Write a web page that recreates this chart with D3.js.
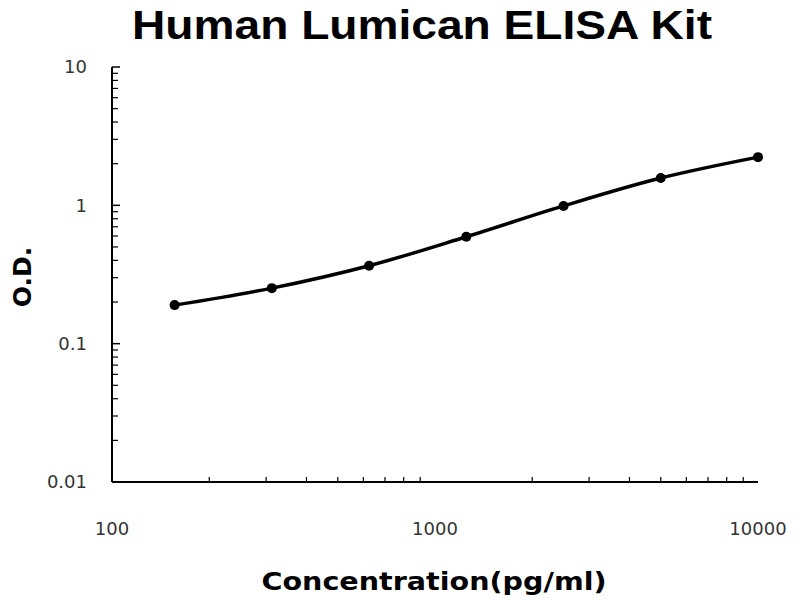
<!DOCTYPE html>
<html>
<head>
<meta charset="UTF-8">
<title>Human Lumican ELISA Kit</title>
<script src="https://d3js.org/d3.v7.min.js"></script>
<style>
  body { margin: 0; background: #fff; }
  svg { display: block; }
</style>
</head>
<body>
<div id="chart"></div>
<script>
// standard curve values
var concentrations = [156.25, 312.5, 625, 1250, 2500, 5000, 10000];
var odValues = [0.190, 0.252, 0.366, 0.593, 0.99, 1.575, 2.23];
var xTickValues = [100, 1000, 10000];
var yTickValues = [0.01, 0.1, 1, 10];

var width = 800, height = 600;
var plot = { left: 112, right: 758, top: 67, bottom: 482 };

var svg = d3.select("#chart").append("svg")
  .attr("width", width)
  .attr("height", height);

var x = d3.scaleLog().domain([100, 10000]).range([plot.left, plot.right]);
var y = d3.scaleLog().domain([0.01, 10]).range([plot.bottom, plot.top]);

// minor ticks: 2..9 of each decade
function minors(lo, hi) {
  var out = [];
  for (var d = lo; d < hi; d *= 10) {
    for (var k = 2; k <= 9; k++) out.push(d * k);
  }
  return out;
}

// x axis
var xg = svg.append("g").attr("transform", "translate(0," + plot.bottom + ")");
xg.append("line")
  .attr("x1", plot.left).attr("x2", plot.right)
  .attr("stroke", "#000").attr("stroke-width", 2);
xg.selectAll(".xminor").data(minors(100, 10000)).enter().append("line")
  .attr("x1", function(d) { return x(d); })
  .attr("x2", function(d) { return x(d); })
  .attr("y1", 0).attr("y2", -5)
  .attr("stroke", "#000").attr("stroke-width", 1.2);
xg.selectAll(".xlab").data(xTickValues).enter().append("text")
  .attr("x", function(d) { return x(d); })
  .attr("y", 53)
  .attr("text-anchor", "middle")
  .style("font-family", "'DejaVu Sans', sans-serif")
  .style("font-size", "18px")
  .style("fill", "#333")
  .text(function(d) { return d; });

// y axis
var yg = svg.append("g").attr("transform", "translate(" + plot.left + ",0)");
yg.append("line")
  .attr("y1", plot.top).attr("y2", plot.bottom)
  .attr("stroke", "#000").attr("stroke-width", 2);
yg.selectAll(".ymajor").data(yTickValues).enter().append("line")
  .attr("y1", function(d) { return y(d); })
  .attr("y2", function(d) { return y(d); })
  .attr("x1", 0).attr("x2", 8)
  .attr("stroke", "#000").attr("stroke-width", 1.5);
yg.selectAll(".yminor").data(minors(0.01, 10)).enter().append("line")
  .attr("y1", function(d) { return y(d); })
  .attr("y2", function(d) { return y(d); })
  .attr("x1", 0).attr("x2", 6)
  .attr("stroke", "#000").attr("stroke-width", 1.2);
yg.selectAll(".ylab").data(yTickValues).enter().append("text")
  .attr("x", -25)
  .attr("y", function(d) { return y(d); })
  .attr("dy", "0.35em")
  .attr("text-anchor", "end")
  .style("font-family", "'DejaVu Sans', sans-serif")
  .style("font-size", "18px")
  .style("fill", "#333")
  .text(function(d) { return d; });

// curve
var pts = concentrations.map(function(c, i) { return [c, odValues[i]]; });
var line = d3.line()
  .x(function(d) { return x(d[0]); })
  .y(function(d) { return y(d[1]); })
  .curve(d3.curveCatmullRom.alpha(0.5));

svg.append("path")
  .datum(pts)
  .attr("d", line)
  .attr("fill", "none")
  .attr("stroke", "#000")
  .attr("stroke-width", 3.5);

svg.selectAll(".pt").data(pts).enter().append("circle")
  .attr("cx", function(d) { return x(d[0]); })
  .attr("cy", function(d) { return y(d[1]); })
  .attr("r", 5)
  .attr("fill", "#000");

// title and axis labels
svg.append("text")
  .attr("x", 422).attr("y", 39)
  .attr("text-anchor", "middle")
  .style("font-family", "'Liberation Sans', Arial, sans-serif")
  .style("font-weight", "bold")
  .style("font-size", "41px")
  .attr("textLength", 580)
  .attr("lengthAdjust", "spacingAndGlyphs")
  .text("Human Lumican ELISA Kit");

svg.append("text")
  .attr("x", 434).attr("y", 590)
  .attr("text-anchor", "middle")
  .style("font-family", "'DejaVu Sans', sans-serif")
  .style("font-weight", "bold")
  .style("font-size", "25px")
  .attr("textLength", 345)
  .attr("lengthAdjust", "spacingAndGlyphs")
  .text("Concentration(pg/ml)");

svg.append("text")
  .attr("transform", "translate(31,277) rotate(-90)")
  .attr("text-anchor", "middle")
  .style("font-family", "'DejaVu Sans', sans-serif")
  .style("font-weight", "bold")
  .style("font-size", "25px")
  .text("O.D.");
</script>
</body>
</html>
